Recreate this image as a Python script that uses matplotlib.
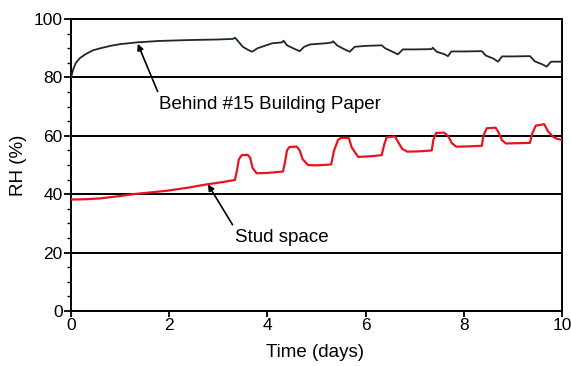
import matplotlib
matplotlib.use("Agg")
import matplotlib.pyplot as plt
from matplotlib.ticker import MultipleLocator

plt.rcParams['font.family'] = ['Liberation Sans', 'DejaVu Sans']

# RH behind #15 building paper (black curve)
paper_t = [0, 0.05, 0.1, 0.18, 0.3, 0.45, 0.6, 0.8, 1.0, 1.34, 1.8, 2.4, 3.0, 3.3,
           3.34, 3.4, 3.5, 3.6, 3.69, 3.8, 4.1, 4.3, 4.33, 4.4, 4.55, 4.66, 4.75,
           4.87, 5.2, 5.32, 5.34, 5.42, 5.55, 5.68, 5.78, 6.0, 6.33, 6.4, 6.55,
           6.66, 6.76, 7.0, 7.35, 7.37, 7.45, 7.6, 7.68, 7.75, 8.0, 8.37, 8.45,
           8.6, 8.7, 8.78, 9.0, 9.35, 9.45, 9.6, 9.69, 9.78, 10.0]
paper_rh = [80, 83, 85, 86.6, 88, 89.3, 90, 90.8, 91.4, 92, 92.5, 92.8, 93, 93.2,
            93.6, 92.5, 90.5, 89.5, 88.8, 90, 91.7, 92, 92.6, 91, 89.8, 89, 90.5,
            91.3, 91.7, 92, 92.4, 91, 89.8, 88.8, 90.5, 90.8, 91, 90, 88.8,
            87.9, 89.6, 89.6, 89.7, 90.2, 88.8, 88, 87.3, 88.9, 88.9, 89, 87.5,
            86.5, 85.4, 87.2, 87.2, 87.3, 85.5, 84.5, 83.7, 85.4, 85.4]

# RH in the stud space (red curve)
stud_t = [0, 0.3, 0.6, 1.0, 1.3, 1.6, 1.95, 2.4, 2.77, 3.1, 3.34, 3.38, 3.42, 3.48,
          3.6, 3.65, 3.7, 3.78, 4.0, 4.32, 4.36, 4.4, 4.45, 4.6, 4.66, 4.72, 4.83,
          5.0, 5.3, 5.36, 5.44, 5.5, 5.66, 5.72, 5.85, 6.1, 6.33, 6.38, 6.43, 6.6,
          6.66, 6.75, 6.85, 7.1, 7.35, 7.38, 7.44, 7.6, 7.68, 7.76, 7.85, 8.1,
          8.37, 8.4, 8.47, 8.65, 8.7, 8.78, 8.86, 9.1, 9.35, 9.4, 9.47, 9.64,
          9.72, 9.82, 9.9, 10.0]
stud_rh = [38.2, 38.3, 38.6, 39.4, 40.1, 40.6, 41.2, 42.3, 43.4, 44.2, 44.9, 48, 52, 53.4,
           53.5, 52.5, 49, 47.2, 47.3, 47.8, 51, 55, 56.2, 56.3, 55, 52, 50,
           49.9, 50.2, 55, 58.6, 59.3, 59.3, 56, 52.8, 53, 53.4, 57, 59.5, 59.8,
           58, 55.5, 54.6, 54.7, 55, 58.5, 61, 61.1, 60, 57.5, 56.3, 56.4,
           56.6, 60, 62.6, 62.8, 61.5, 58.5, 57.4, 57.5, 57.6, 61, 63.5, 64,
           61.5, 59.7, 59, 58.6]

fig = plt.figure(figsize=(5.71, 3.66), dpi=100)
ax = fig.add_axes([0.1243, 0.150, 0.8597, 0.798])

for y in [20, 40, 60, 80]:
    ax.axhline(y, color='black', lw=1.4, zorder=1)

ax.plot(paper_t, paper_rh, color='#1c2b1c', lw=1.3, zorder=3)
ax.plot(stud_t, stud_rh, color='#e8141e', lw=1.6, zorder=3)

arrow = dict(arrowstyle='-|>', color='black', lw=1.2, mutation_scale=9,
             shrinkA=1, shrinkB=0, relpos=(0.0, 1.0))
ax.annotate('Behind #15 Building Paper', xy=(1.36, 91.5), xytext=(1.8, 70.9),
            fontsize=13.5, va='center', ha='left', arrowprops=arrow)
ax.annotate('Stud space', xy=(2.79, 43.4), xytext=(3.34, 25.3),
            fontsize=13.5, va='center', ha='left', arrowprops=arrow)

ax.set_xlim(0, 10)
ax.set_ylim(0, 100)
ax.xaxis.set_major_locator(MultipleLocator(2))
ax.yaxis.set_major_locator(MultipleLocator(20))
ax.yaxis.set_minor_locator(MultipleLocator(5))
ax.tick_params(axis='both', which='major', direction='out', width=1.3, labelsize=12.5, pad=1)
ax.tick_params(axis='x', which='major', length=4)
ax.tick_params(axis='y', which='major', length=5)
ax.tick_params(axis='y', which='minor', direction='out', length=3, width=1.0)
for s in ax.spines.values():
    s.set_linewidth(1.4)

ax.set_xlabel('Time (days)', fontsize=13.5)
ax.set_ylabel('RH (%)', fontsize=13.5)
ax.xaxis.set_label_coords(0.497, -0.114)
ax.yaxis.set_label_coords(-0.09, 0.5)

plt.savefig('out.png', dpi=100)
